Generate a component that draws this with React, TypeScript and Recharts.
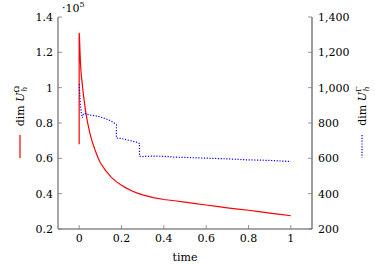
import React from 'react';
import { LineChart, Line, XAxis, YAxis } from 'recharts';

const omegaTime = [0, 0, 0.002, 0.004, 0.007, 0.01, 0.013, 0.02, 0.03, 0.04, 0.05, 0.06, 0.075, 0.09, 0.1, 0.125, 0.15, 0.175, 0.2, 0.225, 0.25, 0.275, 0.3, 0.35, 0.4, 0.45, 0.5, 0.55, 0.6, 0.65, 0.7, 0.75, 0.8, 0.85, 0.9, 0.95, 1.0];
const omegaDim = [0.68, 1.31, 1.27, 1.2, 1.12, 1.07, 1.04, 0.96, 0.87, 0.8, 0.745, 0.7, 0.647, 0.6, 0.575, 0.53, 0.495, 0.468, 0.447, 0.43, 0.415, 0.403, 0.393, 0.378, 0.367, 0.36, 0.352, 0.344, 0.336, 0.328, 0.32, 0.313, 0.306, 0.298, 0.29, 0.283, 0.275];

const gammaTime = [0, 0.003, 0.006, 0.01, 0.015, 0.02, 0.025, 0.035, 0.05, 0.07, 0.09, 0.11, 0.13, 0.15, 0.165, 0.176, 0.176, 0.2, 0.225, 0.25, 0.27, 0.285, 0.285, 0.3, 0.35, 0.4, 0.45, 0.5, 0.55, 0.6, 0.65, 0.7, 0.75, 0.8, 0.85, 0.9, 0.95, 1.0];
const gammaDim = [1020, 960, 900, 860, 830, 850, 855, 850, 845, 842, 838, 830, 822, 812, 800, 790, 715, 712, 705, 698, 692, 685, 612, 610, 613, 611, 607, 605, 603, 601, 599, 597, 594, 591, 590, 588, 585, 582];

const timeTicks = [0, 0.2, 0.4, 0.6, 0.8, 1];
const omegaTicks = [0.2, 0.4, 0.6, 0.8, 1, 1.2, 1.4];
const gammaTicks = [200, 400, 600, 800, 1000, 1200, 1400];

const omegaData = omegaTime.map((t, i) => ({ t, v: omegaDim[i] }));
const gammaData = gammaTime.map((t, i) => ({ t, g: gammaDim[i] }));

const FONT = '"DejaVu Serif"';
const FS = 11;
const TXT: React.CSSProperties = { fontFamily: FONT, fontSize: FS };
const SMALL: React.CSSProperties = { fontFamily: FONT, fontSize: 8 };
const TICK_COLOR = '#7a7a7a';
const AXIS_DARK = '#3a3a3a';
const AXIS_GRAY = '#8a8a8a';

const fmtTime = (v: number) => String(Number(v.toFixed(2)));
const fmtOmega = (v: number) => String(Number(v.toFixed(2)));
const fmtGamma = (v: number) => v.toLocaleString('en-US');

function BottomTick(props: any) {
  const { x, y, payload } = props;
  return (
    <g>
      <line x1={x} x2={x} y1={y} y2={y - 4} stroke={TICK_COLOR} strokeWidth={0.8} />
      <text x={x} y={y + 13} textAnchor="middle" style={TXT} fill="#000">
        {fmtTime(payload.value)}
      </text>
    </g>
  );
}

function TopTick(props: any) {
  const { x, y } = props;
  return <line x1={x} x2={x} y1={y} y2={y + 4} stroke={TICK_COLOR} strokeWidth={0.8} />;
}

function LeftTick(props: any) {
  const { x, y, payload } = props;
  return (
    <g>
      <line x1={x} x2={x + 4} y1={y} y2={y} stroke={TICK_COLOR} strokeWidth={0.8} />
      <text x={x - 5} y={y + 4} textAnchor="end" style={TXT} fill="#000">
        {fmtOmega(payload.value)}
      </text>
    </g>
  );
}

function RightTick(props: any) {
  const { x, y, payload } = props;
  return (
    <g>
      <line x1={x} x2={x - 4} y1={y} y2={y} stroke={TICK_COLOR} strokeWidth={0.8} />
      <text x={x + 6} y={y + 4} textAnchor="start" style={TXT} fill="#000">
        {fmtGamma(payload.value)}
      </text>
    </g>
  );
}

function Overlay() {
  return (
    <svg width={375} height={264} style={{ position: 'absolute', left: 0, top: 0, pointerEvents: 'none' }}>
      <text x={62} y={12} style={TXT} fill="#000">
        ·10<tspan style={SMALL} dy={-5}>5</tspan>
      </text>
      <text x={185} y={261} textAnchor="middle" style={TXT} fill="#000">time</text>
      <g transform="translate(24,106) rotate(-90)">
        <text x={0} y={0} textAnchor="middle" style={TXT} fill="#000">
          dim <tspan fontStyle="italic">U</tspan>
          <tspan style={SMALL} dy={-5}>Ω</tspan>
          <tspan style={SMALL} fontStyle="italic" dx={-6} dy={8}>h</tspan>
        </text>
      </g>
      <line x1={20} x2={20} y1={135} y2={158} stroke="#ff0000" strokeWidth={1.2} />
      <g transform="translate(366,106) rotate(-90)">
        <text x={0} y={0} textAnchor="middle" style={TXT} fill="#000">
          dim <tspan fontStyle="italic">U</tspan>
          <tspan style={SMALL} dy={-5}>Γ</tspan>
          <tspan style={SMALL} fontStyle="italic" dx={-5} dy={8}>h</tspan>
        </text>
      </g>
      <line x1={362} x2={362} y1={135} y2={158} stroke="#0000ff" strokeWidth={1.2} strokeDasharray="1.2 1.6" />
    </svg>
  );
}

export default function App() {
  return (
    <div style={{ position: 'absolute', left: 0, top: 0, width: 375, height: 264 }}>
      <LineChart width={375} height={264} margin={{ top: 17, right: 0, bottom: 0, left: 0 }}>
        <XAxis
          xAxisId="b"
          dataKey="t"
          type="number"
          domain={[-0.1, 1.1]}
          ticks={timeTicks}
          allowDataOverflow
          height={35}
          tickSize={0}
          tickMargin={0}
          tick={<BottomTick />}
          axisLine={{ stroke: AXIS_GRAY, strokeWidth: 1.5 }}
          tickLine={false}
        />
        <XAxis
          xAxisId="top"
          orientation="top"
          dataKey="t"
          type="number"
          domain={[-0.1, 1.1]}
          ticks={timeTicks}
          allowDataOverflow
          height={0}
          tickSize={0}
          tickMargin={0}
          tick={<TopTick />}
          axisLine={{ stroke: AXIS_DARK, strokeWidth: 1 }}
          tickLine={false}
        />
        <YAxis
          yAxisId="left"
          type="number"
          domain={[0.2, 1.4]}
          ticks={omegaTicks}
          allowDataOverflow
          width={58}
          tickSize={0}
          tickMargin={0}
          tick={<LeftTick />}
          axisLine={{ stroke: AXIS_GRAY, strokeWidth: 1.5 }}
          tickLine={false}
        />
        <YAxis
          yAxisId="right"
          orientation="right"
          type="number"
          domain={[200, 1400]}
          ticks={gammaTicks}
          allowDataOverflow
          width={63}
          tickSize={0}
          tickMargin={0}
          tick={<RightTick />}
          axisLine={{ stroke: AXIS_DARK, strokeWidth: 1 }}
          tickLine={false}
        />
        <Line
          xAxisId="b"
          yAxisId="left"
          data={omegaData}
          dataKey="v"
          type="linear"
          stroke="#ff0000"
          strokeWidth={1.2}
          dot={false}
          isAnimationActive={false}
        />
        <Line
          xAxisId="b"
          yAxisId="right"
          data={gammaData}
          dataKey="g"
          type="linear"
          stroke="#0000ff"
          strokeWidth={1.2}
          strokeDasharray="1.2 1.6"
          dot={false}
          isAnimationActive={false}
        />
      </LineChart>
      <Overlay />
    </div>
  );
}
